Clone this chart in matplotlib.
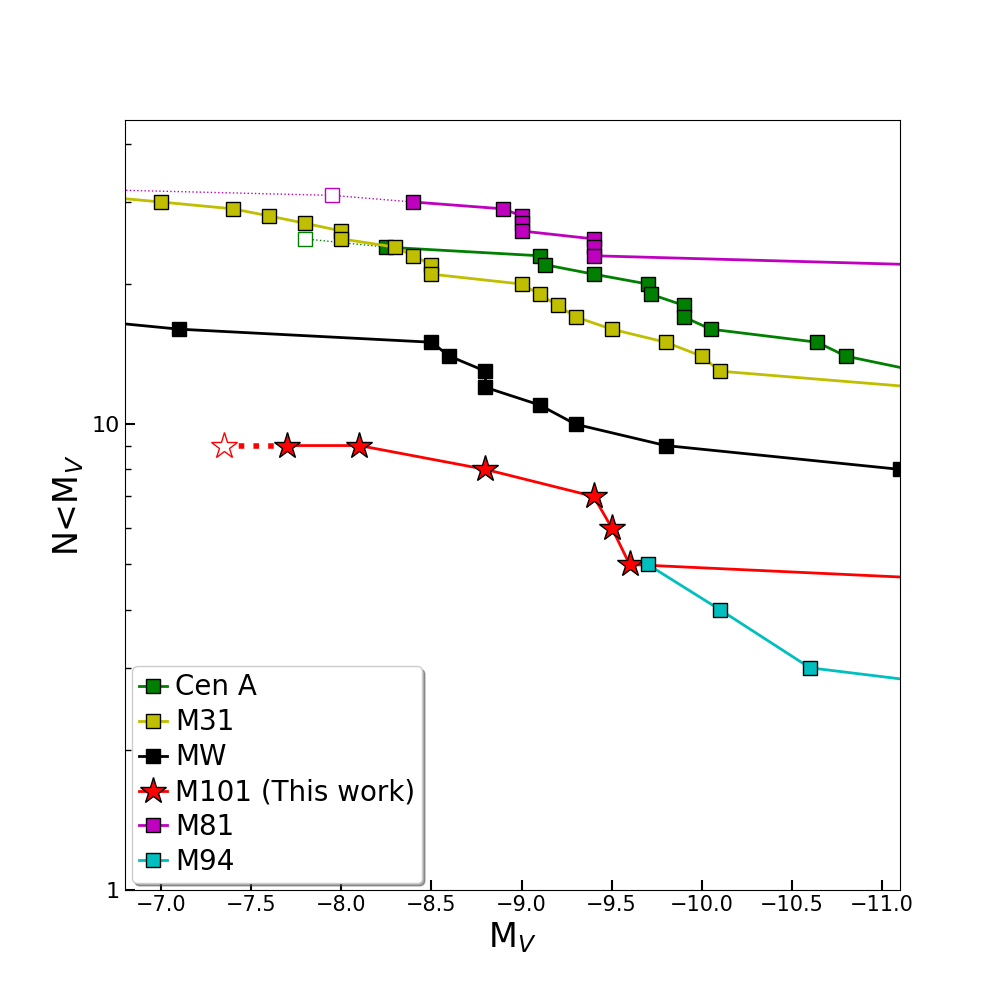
import matplotlib
matplotlib.use("Agg")
import matplotlib.pyplot as plt
from matplotlib.ticker import FixedLocator, FixedFormatter, NullFormatter

# Cen A
cena_mv = [-8.25, -9.1, -9.13, -9.4, -9.7, -9.72, -9.9, -9.9, -10.05, -10.64, -10.8, -11.2]
cena_n = [24, 23, 22, 21, 20, 19, 18, 17, 16, 15, 14, 13]
cena_faint_mv = [-7.8, -8.25]
cena_faint_n = [25, 24]

# M31
m31_mv = [-6.6, -7.0, -7.4, -7.6, -7.8, -8.0, -8.0, -8.3, -8.4, -8.5, -8.5, -9.0, -9.1,
          -9.2, -9.3, -9.5, -9.8, -10.0, -10.1, -11.2]
m31_n = [31, 30, 29, 28, 27, 26, 25, 24, 23, 22, 21, 20, 19, 18, 17, 16, 15, 14, 13, 12]

# MW
mw_mv = [-6.4, -7.1, -8.5, -8.6, -8.8, -8.8, -9.1, -9.3, -9.8, -11.1]
mw_n = [17, 16, 15, 14, 13, 12, 11, 10, 9, 8]

# M101 (this work)
m101_mv = [-7.7, -8.1, -8.8, -9.4, -9.5, -9.6, -15.0]
m101_n = [9, 9, 8, 7, 6, 5, 4]
m101_faint_mv = [-7.35, -7.7]
m101_faint_n = [9, 9]

# M81
m81_mv = [-8.4, -8.9, -9.0, -9.0, -9.0, -9.4, -9.4, -9.4, -11.2]
m81_n = [30, 29, 28, 27, 26, 25, 24, 23, 22]
m81_faint_mv = [-6.5, -7.95, -8.4]
m81_faint_n = [32, 31, 30]

# M94
m94_mv = [-9.7, -10.1, -10.6, -14.3]
m94_n = [5, 4, 3, 2]

x_ticks = [-7.0, -7.5, -8.0, -8.5, -9.0, -9.5, -10.0, -10.5, -11.0]
y_ticks = [1, 10]
y_tick_labels = ['1', '10']

fig, ax = plt.subplots(figsize=(10, 10), dpi=100)

ms = 10
lw = 2
# faint extensions
ax.plot(m81_faint_mv, m81_faint_n, ':', color='m', lw=1)
ax.plot(m81_faint_mv[1:2], m81_faint_n[1:2], 's', mfc='white', mec='m', ms=ms)
ax.plot(cena_faint_mv, cena_faint_n, ':', color='g', lw=1)
ax.plot(cena_faint_mv[:1], cena_faint_n[:1], 's', mfc='white', mec='g', ms=ms)
ax.plot(m101_faint_mv, m101_faint_n, ':', color='r', lw=4)
ax.plot(m101_faint_mv[:1], m101_faint_n[:1], '*', mfc='white', mec='r', ms=20)

ax.plot(cena_mv, cena_n, '-s', color='g', mec='k', ms=ms, lw=lw, label='Cen A')
ax.plot(m31_mv, m31_n, '-s', color='y', mec='k', ms=ms, lw=lw, label='M31')
ax.plot(mw_mv, mw_n, '-s', color='k', mec='k', ms=ms, lw=lw, label='MW')
ax.plot(m101_mv, m101_n, '-*', color='r', mec='k', ms=20, lw=lw, label='M101 (This work)')
ax.plot(m81_mv, m81_n, '-s', color='m', mec='k', ms=ms, lw=lw, label='M81')
ax.plot(m94_mv, m94_n, '-s', color='c', mec='k', ms=ms, lw=lw, label='M94')

ax.set_yscale('log')
ax.set_xlim(-6.8, -11.1)
ax.set_ylim(1, 45)
ax.set_xticks(x_ticks)
ax.yaxis.set_major_locator(FixedLocator(y_ticks))
ax.yaxis.set_major_formatter(FixedFormatter(y_tick_labels))
ax.yaxis.set_minor_formatter(NullFormatter())
ax.tick_params(which='both', direction='in', labelsize=15)
ax.tick_params(axis='y', labelsize=16)
ax.tick_params(which='major', length=7, width=1.5)
ax.tick_params(which='minor', length=4, width=1)
ax.set_xlabel(r'M$_V$', fontsize=24)
ax.set_ylabel(r'N<M$_V$', fontsize=24)
ax.legend(loc='lower left', fontsize=20, shadow=True, handlelength=1.0,
          handletextpad=0.3, borderaxespad=0.25, labelspacing=0.25,
          borderpad=0.25)

fig.savefig('out.png', dpi=100)
